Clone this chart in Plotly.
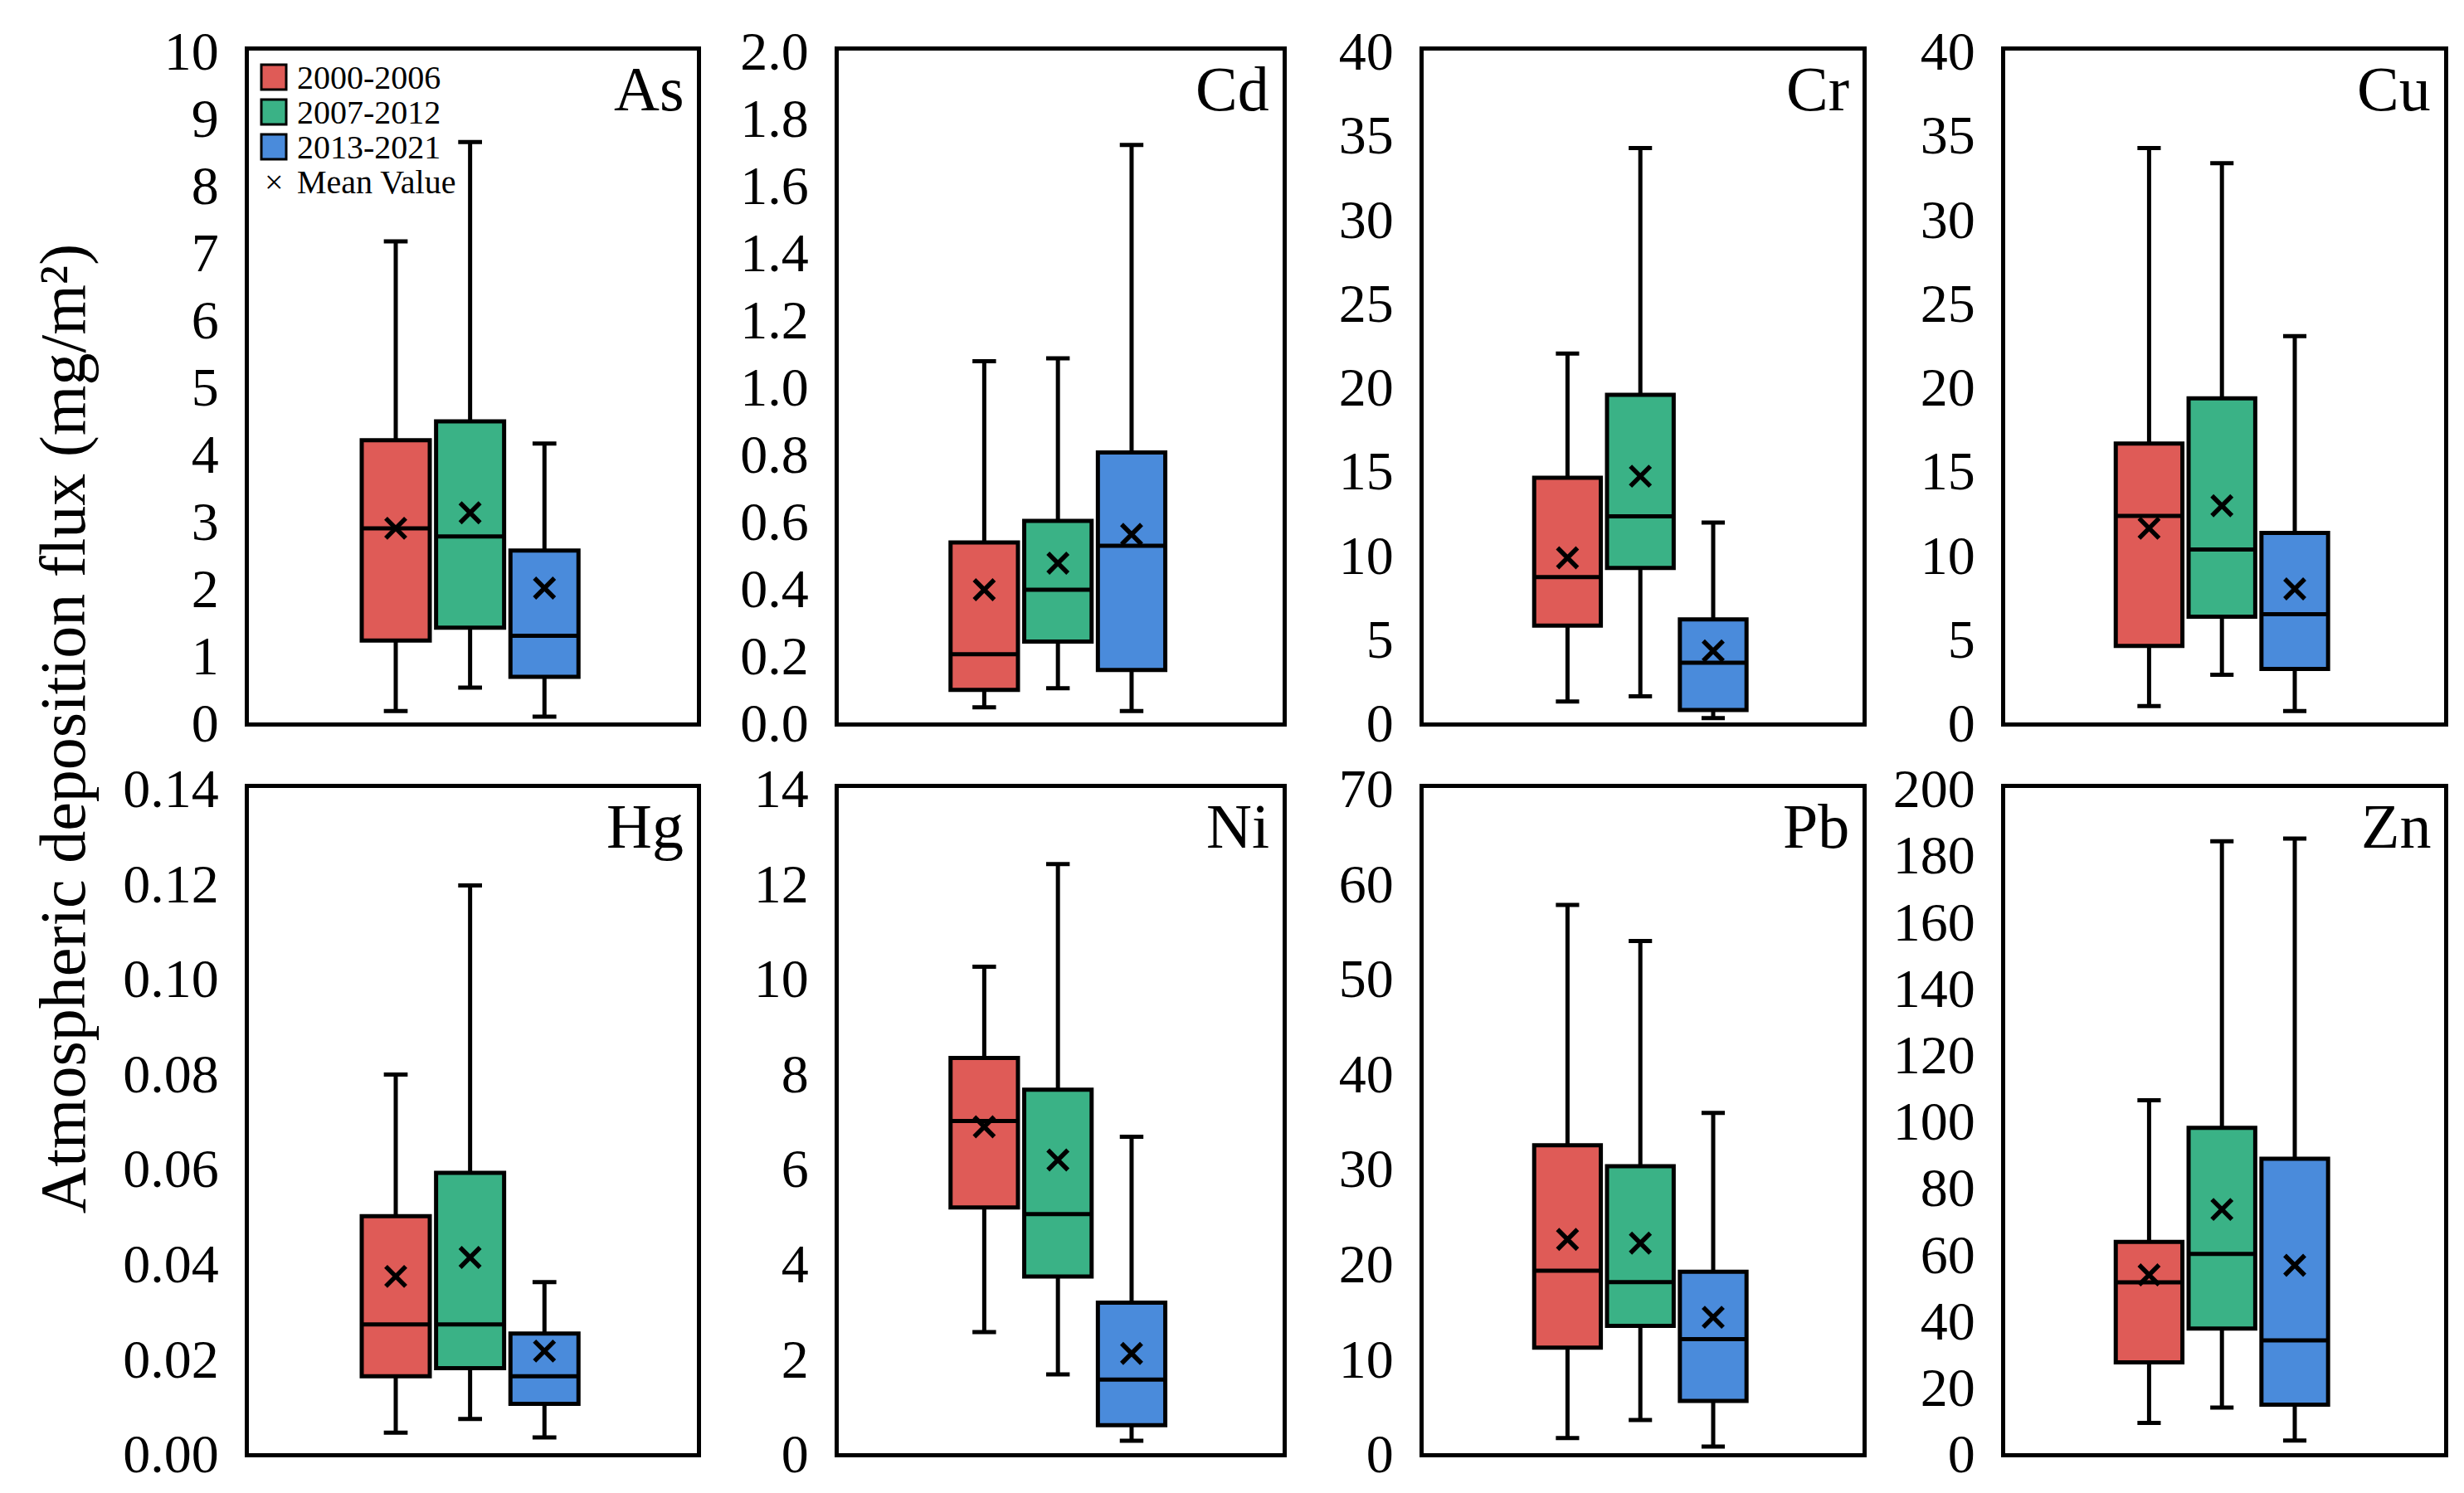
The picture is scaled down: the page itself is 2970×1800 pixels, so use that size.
import plotly.graph_objects as go

# element panels, in reading order
elements = ["As", "Cd", "Cr", "Cu", "Hg", "Ni", "Pb", "Zn"]
periods = ["2000-2006", "2007-2012", "2013-2021"]
colors = ["#DF5B57", "#3AB286", "#4A8BDB"]

# box statistics per element, one value per period
whisker_low = [
    [0.17, 0.52, 0.085],
    [0.045, 0.102, 0.034],
    [1.25, 1.56, 0.26],
    [0.97, 2.84, 0.68],
    [0.0043, 0.0072, 0.0033],
    [2.55, 1.66, 0.26],
    [1.6, 3.5, 0.7],
    [9.1, 13.7, 3.8],
]
q1 = [
    [1.22, 1.41, 0.68],
    [0.097, 0.241, 0.156],
    [5.77, 9.2, 0.74],
    [4.55, 6.3, 3.18],
    [0.0162, 0.0179, 0.0104],
    [5.17, 3.72, 0.59],
    [11.1, 13.4, 5.5],
    [27.3, 37.5, 14.6],
]
median = [
    [2.89, 2.77, 1.29],
    [0.203, 0.395, 0.526],
    [8.66, 12.27, 3.55],
    [12.3, 10.3, 6.45],
    [0.0271, 0.0271, 0.0162],
    [6.99, 5.03, 1.55],
    [19.2, 18.0, 12.0],
    [51.4, 59.9, 33.9],
]
q3 = [
    [4.2, 4.48, 2.56],
    [0.536, 0.60, 0.804],
    [14.57, 19.5, 6.14],
    [16.6, 19.3, 11.28],
    [0.0499, 0.059, 0.0252],
    [8.32, 7.65, 3.17],
    [32.4, 30.2, 19.1],
    [63.5, 97.8, 88.5],
]
whisker_high = [
    [7.16, 8.64, 4.15],
    [1.075, 1.084, 1.719],
    [21.96, 34.2, 11.9],
    [34.2, 33.3, 23.0],
    [0.0797, 0.1195, 0.036],
    [10.24, 12.4, 6.66],
    [57.7, 53.9, 35.8],
    [106.1, 184.0, 184.8],
]
means = [
    [2.89, 3.12, 2.0],
    [0.395, 0.474, 0.56],
    [9.8, 14.66, 4.26],
    [11.56, 12.9, 7.95],
    [0.0372, 0.0412, 0.0215],
    [6.87, 6.17, 2.1],
    [22.5, 22.1, 14.3],
    [53.6, 73.3, 56.5],
]

# y axis ticks per panel
y_max = [10, 2.0, 40, 40, 0.14, 14, 70, 200]
y_step = [1, 0.2, 5, 5, 0.02, 2, 10, 20]
y_format = ["d", ".1f", "d", "d", ".2f", "d", "d", "d"]

W, H = 2970, 1800
FONT = "Liberation Serif, Times New Roman, serif"

# panel edges in pixels
col_px = [(292, 832), (1003, 1538), (1708, 2237), (2409, 2938)]
row_px = [(53, 863), (942, 1744)]

fig = go.Figure()

for k, el in enumerate(elements):
    r, c = divmod(k, 4)
    ax = "" if k == 0 else str(k + 1)
    x0, x1 = col_px[c]
    top, bot = row_px[r]

    for i, per in enumerate(periods):
        fig.add_trace(go.Box(
            x=[i], q1=[q1[k][i]], median=[median[k][i]], q3=[q3[k][i]],
            lowerfence=[whisker_low[k][i]], upperfence=[whisker_high[k][i]],
            width=0.915, whiskerwidth=0.35, boxpoints=False,
            fillcolor=colors[i], line=dict(color="black", width=5),
            name=per, showlegend=False,
            xaxis="x" + ax, yaxis="y" + ax,
        ))

    fig.add_trace(go.Scatter(
        x=[0, 1, 2], y=means[k], mode="markers", name="Mean Value",
        showlegend=False,
        marker=dict(symbol="x-thin", size=24, color="black",
                    line=dict(width=5.5, color="black")),
        xaxis="x" + ax, yaxis="y" + ax,
    ))

    fig.update_layout(**{
        "xaxis" + ax: dict(
            domain=[x0 / W, x1 / W], range=[-1.975, 4.05],
            showline=True, linecolor="black", linewidth=5, mirror=True,
            showgrid=False, zeroline=False, showticklabels=False, ticks="",
            anchor="y" + ax, automargin=False,
        ),
        "yaxis" + ax: dict(
            domain=[1 - bot / H, 1 - top / H], range=[0, y_max[k]],
            dtick=y_step[k], tick0=0, tickformat=y_format[k],
            showline=True, linecolor="black", linewidth=5, mirror=True,
            showgrid=False, zeroline=False, ticks="", ticklabelstandoff=18,
            tickfont=dict(family=FONT, size=66, color="black"),
            anchor="x" + ax, automargin=False,
        ),
    })

    fig.add_annotation(
        text=el, xref="paper", yref="paper",
        x=(x1 - 14) / W, y=1 - (top + 2) / H,
        xanchor="right", yanchor="top", showarrow=False,
        font=dict(family=FONT, size=76, color="black"),
    )

# legend box inside the As panel
for i, per in enumerate(periods):
    cy = 85 + 42 * i
    fig.add_shape(
        type="rect", xref="paper", yref="paper",
        x0=307 / W, x1=337 / W, y0=1 - (cy - 15) / H, y1=1 - (cy + 15) / H,
        fillcolor=colors[i], line=dict(color="black", width=3),
    )
    fig.add_annotation(
        text=per, xref="paper", yref="paper", x=348 / W, y=1 - cy / H,
        xanchor="left", yanchor="middle", showarrow=False,
        font=dict(family=FONT, size=40, color="black"),
    )
fig.add_annotation(
    text="×", xref="paper", yref="paper", x=322 / W, y=1 - 211 / H,
    xanchor="center", yanchor="middle", showarrow=False,
    font=dict(family=FONT, size=40, color="black"),
)
fig.add_annotation(
    text="Mean Value", xref="paper", yref="paper", x=348 / W, y=1 - 211 / H,
    xanchor="left", yanchor="middle", showarrow=False,
    font=dict(family=FONT, size=40, color="black"),
)

fig.add_annotation(
    text="Atmospheric deposition flux (mg/m²)", xref="paper", yref="paper",
    x=67 / W, y=0.516, textangle=-90, showarrow=False,
    xanchor="center", yanchor="middle",
    font=dict(family=FONT, size=78, color="black"),
)

fig.update_layout(
    width=W, height=H,
    margin=dict(l=0, r=0, t=0, b=0, autoexpand=False),
    paper_bgcolor="white", plot_bgcolor="white",
    boxmode="overlay", showlegend=False,
)

fig.write_html("out.html")
